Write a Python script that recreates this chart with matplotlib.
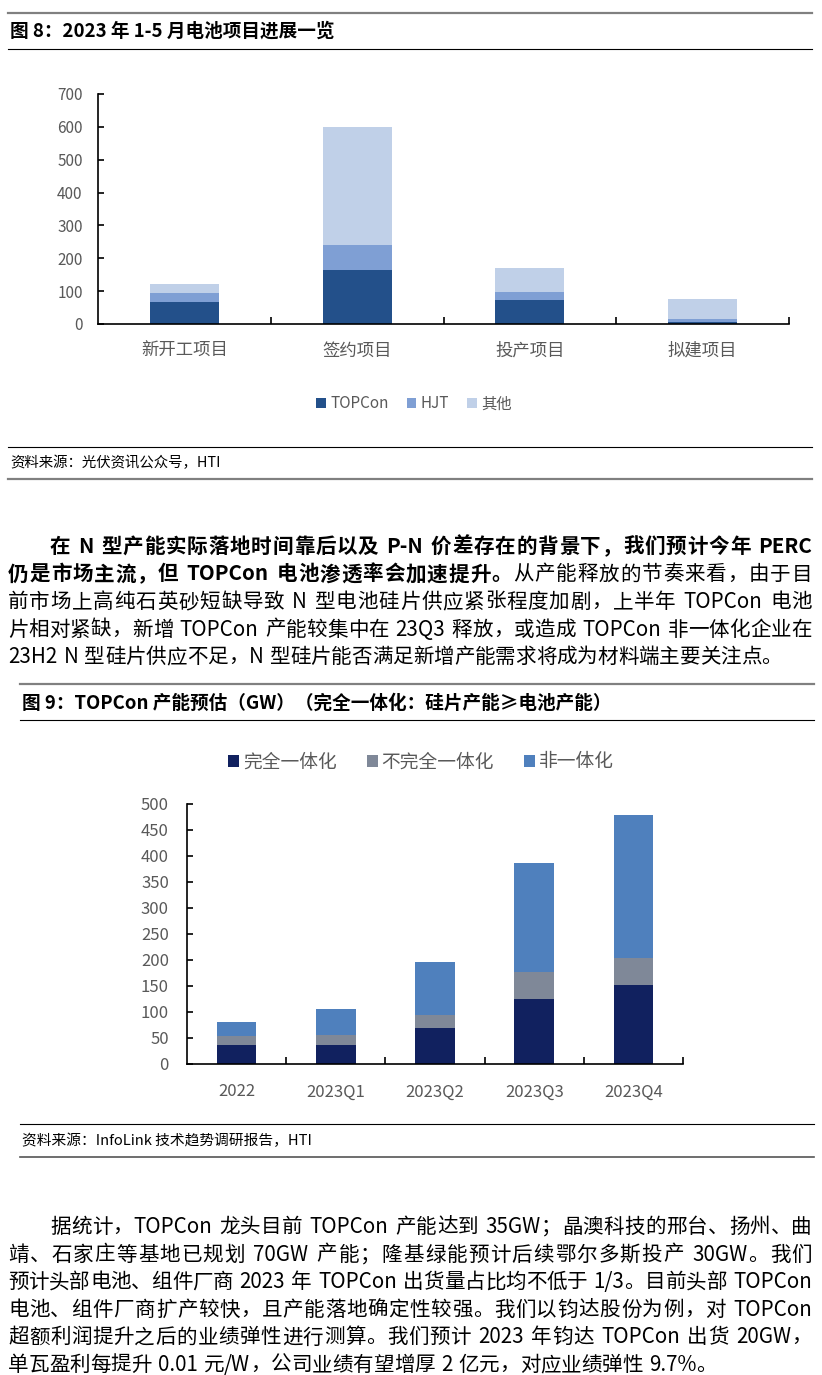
import matplotlib
matplotlib.use("Agg")
import matplotlib.pyplot as plt
from matplotlib.lines import Line2D
import numpy as np

W, H = 822, 1375
FAM = ["Noto Sans CJK SC", "DejaVu Sans"]
plt.rcParams["font.family"] = FAM

# Figure 8 data: 2023 Jan-May cell projects
stage_labels = ["新开工项目", "签约项目", "投产项目", "拟建项目"]
topcon = [68, 163, 73, 7]
hjt = [27, 78, 23, 9]
others = [27, 359, 75, 61]
series1_names = ["TOPCon", "HJT", "其他"]
y1_ticks = [0, 100, 200, 300, 400, 500, 600, 700]

# Figure 9 data: TOPCon capacity (GW)
periods = ["2022", "2023Q1", "2023Q2", "2023Q3", "2023Q4"]
full_integrated = [36, 36, 70, 125, 152]
partial_integrated = [18, 20, 25, 51, 51]
non_integrated = [26, 50, 102, 211, 275]
series2_names = ["完全一体化", "不完全一体化", "非一体化"]
y2_ticks = [0, 50, 100, 150, 200, 250, 300, 350, 400, 450, 500]

# Page text
title1 = "图 8：2023 年 1-5 月电池项目进展一览"
source1 = "资料来源：光伏资讯公众号，HTI"
title2 = "图 9：TOPCon 产能预估（GW）（完全一体化：硅片产能≥电池产能）"
source2 = "资料来源：InfoLink 技术趋势调研报告，HTI"

para1 = [
    [("在 N 型产能实际落地时间靠后以及 P-N 价差存在的背景下，我们预计今年 PERC", True)],
    [("仍是市场主流，但 TOPCon 电池渗透率会加速提升。", True), ("从产能释放的节奏来看，由于目", False)],
    [("前市场上高纯石英砂短缺导致 N 型电池硅片供应紧张程度加剧，上半年 TOPCon 电池", False)],
    [("片相对紧缺，新增 TOPCon 产能较集中在 23Q3 释放，或造成 TOPCon 非一体化企业在", False)],
    [("23H2 N 型硅片供应不足，N 型硅片能否满足新增产能需求将成为材料端主要关注点。", False)],
]
para2 = [
    [("据统计，TOPCon 龙头目前 TOPCon 产能达到 35GW；晶澳科技的邢台、扬州、曲", False)],
    [("靖、石家庄等基地已规划 70GW 产能；隆基绿能预计后续鄂尔多斯投产 30GW。我们", False)],
    [("预计头部电池、组件厂商 2023 年 TOPCon 出货量占比均不低于 1/3。目前头部 TOPCon", False)],
    [("电池、组件厂商扩产较快，且产能落地确定性较强。我们以钧达股份为例，对 TOPCon", False)],
    [("超额利润提升之后的业绩弹性进行测算。我们预计 2023 年钧达 TOPCon 出货 20GW，", False)],
    [("单瓦盈利每提升 0.01 元/W，公司业绩有望增厚 2 亿元，对应业绩弹性 9.7%。", False)],
]

c1 = ["#23508A", "#7F9FD4", "#C0D0E8"]
c2 = ["#11215F", "#7F8898", "#4F80BD"]
TICK_GRAY = "#595959"


def fx(x):
    return x / W


def fy(y):
    return 1 - y / H


def hline(fig, y, x0, x1, color, lw):
    fig.add_artist(Line2D([fx(x0), fx(x1)], [fy(y), fy(y)],
                          transform=fig.transFigure, color=color, lw=lw))


def tokens(s):
    out, buf = [], ""
    for ch in s:
        if ch.isascii() and ch != " ":
            buf += ch
        else:
            if buf:
                out.append(buf)
                buf = ""
            out.append(ch)
    if buf:
        out.append(buf)
    return out


def text_line(fig, renderer, y, segments, x0, x1, fs, justify=True):
    # y is the baseline in pixels; spreads tokens to fill x0..x1
    items = [(tok, bold) for s, bold in segments for tok in tokens(s)]
    widths, arts = [], []
    for tok, bold in items:
        if tok == " ":
            widths.append(fs * 100 / 72 * 0.3)
            arts.append(None)
            continue
        t = fig.text(0, fy(y), tok, fontsize=fs, color="black",
                     fontweight="bold" if bold else "normal",
                     ha="left", va="baseline")
        widths.append(t.get_window_extent(renderer).width)
        arts.append(t)
    gap = 0
    if justify and len(items) > 1:
        gap = (x1 - x0 - sum(widths)) / (len(items) - 1)
    x = x0
    for t, w in zip(arts, widths):
        if t is not None:
            t.set_x(fx(x))
        x += w + gap


def style_axes(ax, n):
    for side in ["top", "right"]:
        ax.spines[side].set_visible(False)
    for side in ["left", "bottom"]:
        ax.spines[side].set_color("black")
        ax.spines[side].set_linewidth(1.2)
    ax.set_xlim(-0.5, n - 0.5)
    ax.set_xticks(np.arange(0.5, n, 1), minor=True)
    ax.tick_params(axis="x", which="major", length=0, colors=TICK_GRAY)
    ax.tick_params(axis="x", which="minor", direction="in", length=5, width=1.2)
    ax.tick_params(axis="y", direction="in", length=4, width=1.2, colors=TICK_GRAY)
    ax.tick_params(axis="y", color="black")


fig = plt.figure(figsize=(W / 100, H / 100), dpi=100)
renderer = fig.canvas.get_renderer()

# ---- Figure 8 ----
hline(fig, 13, 8, 812, "#808080", 1.6)
fig.text(fx(10), fy(31), title1, fontsize=13.4, fontweight="bold", va="center", ha="left")
hline(fig, 49, 8, 812, "black", 0.8)

ax1 = fig.add_axes([fx(98), fy(324), (789 - 98) / W, (324 - 94) / H])
x1 = np.arange(len(stage_labels))
bw = 0.4
h1 = ax1.bar(x1, topcon, bw, color=c1[0])
h2 = ax1.bar(x1, hjt, bw, bottom=topcon, color=c1[1])
h3 = ax1.bar(x1, others, bw, bottom=np.add(topcon, hjt), color=c1[2])
style_axes(ax1, len(stage_labels))
ax1.set_ylim(0, 700)
ax1.set_yticks(y1_ticks)
ax1.set_xticks(x1)
ax1.set_xticklabels(stage_labels, fontsize=12.5)
ax1.tick_params(axis="x", which="major", pad=13)
ax1.tick_params(axis="y", labelsize=11, pad=11)
fig.legend([h1, h2, h3], series1_names, loc="center", bbox_to_anchor=(fx(414), fy(404)),
           ncol=3, frameon=False, fontsize=11, handlelength=0.6, handleheight=0.6,
           handletextpad=0.3, columnspacing=1.2, labelcolor=TICK_GRAY)

hline(fig, 447, 8, 812, "black", 0.8)
fig.text(fx(10), fy(463), source1, fontsize=10.4, va="center", ha="left")
hline(fig, 479, 8, 812, "#808080", 1.6)

# ---- Paragraph 1 ----
fs_body = 14.8
base_off = 8
for i, segs in enumerate(para1):
    y = 545 + i * 27.5 + base_off
    x0 = 50 if i == 0 else 8
    text_line(fig, renderer, y, segs, x0, 812, fs_body, justify=(i < len(para1) - 1))

# ---- Figure 9 ----
hline(fig, 684, 20, 814, "#808080", 1.6)
fig.text(fx(22), fy(703), title2, fontsize=13.4, fontweight="bold", va="center", ha="left")
hline(fig, 720, 20, 814, "black", 0.8)

ax2 = fig.add_axes([fx(187), fy(1064), (683 - 187) / W, (1064 - 804) / H])
x2 = np.arange(len(periods))
g1 = ax2.bar(x2, full_integrated, bw, color=c2[0])
g2 = ax2.bar(x2, partial_integrated, bw, bottom=full_integrated, color=c2[1])
g3 = ax2.bar(x2, non_integrated, bw, bottom=np.add(full_integrated, partial_integrated), color=c2[2])
style_axes(ax2, len(periods))
ax2.set_ylim(0, 500)
ax2.set_yticks(y2_ticks)
ax2.set_xticks(x2)
ax2.set_xticklabels(periods, fontsize=12)
ax2.tick_params(axis="x", which="major", pad=14)
ax2.tick_params(axis="y", labelsize=12, pad=13)
fig.legend([g1, g2, g3], series2_names, loc="center", bbox_to_anchor=(fx(421), fy(762)),
           ncol=3, frameon=False, fontsize=13.5, handlelength=0.6, handleheight=0.6,
           handletextpad=0.2, columnspacing=1.6, labelcolor=TICK_GRAY)

hline(fig, 1124, 20, 814, "black", 0.8)
fig.text(fx(22), fy(1141), source2, fontsize=10.6, va="center", ha="left")
hline(fig, 1157, 20, 814, "#555555", 1.2)

# ---- Paragraph 2 ----
for i, segs in enumerate(para2):
    y = 1225 + i * 27.6 + base_off
    x0 = 50 if i == 0 else 8
    text_line(fig, renderer, y, segs, x0, 812, fs_body, justify=(i < len(para2) - 1))

fig.savefig("out.png", dpi=100)
